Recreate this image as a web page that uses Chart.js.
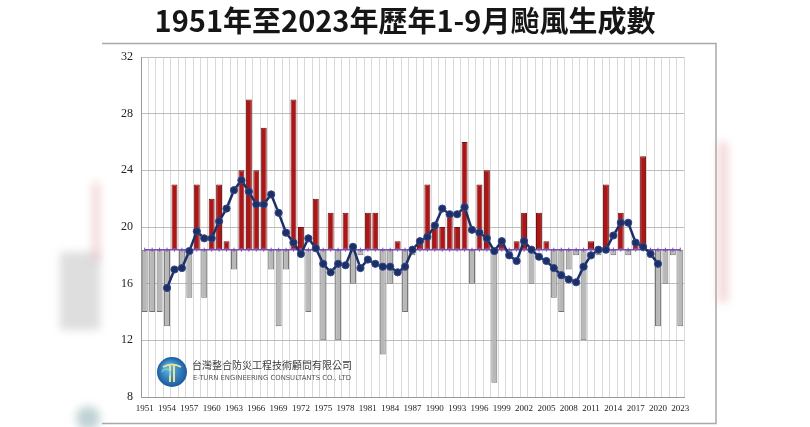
<!DOCTYPE html>
<html>
<head>
<meta charset="utf-8">
<script src="https://cdn.jsdelivr.net/npm/chart.js@4/dist/chart.umd.min.js"></script>
<style>
    html, body { margin: 0; padding: 0; background: #fff; }
    #wrap { width: 810px; height: 427px; }
</style>
</head>
<body>
<div id="wrap"><canvas id="chartCanvas" width="810" height="427"></canvas></div>
<script>
// years 1951 - 2023
const years = [
    1951, 1952, 1953, 1954, 1955, 1956, 1957, 1958, 1959, 1960,
    1961, 1962, 1963, 1964, 1965, 1966, 1967, 1968, 1969, 1970,
    1971, 1972, 1973, 1974, 1975, 1976, 1977, 1978, 1979, 1980,
    1981, 1982, 1983, 1984, 1985, 1986, 1987, 1988, 1989, 1990,
    1991, 1992, 1993, 1994, 1995, 1996, 1997, 1998, 1999, 2000,
    2001, 2002, 2003, 2004, 2005, 2006, 2007, 2008, 2009, 2010,
    2011, 2012, 2013, 2014, 2015, 2016, 2017, 2018, 2019, 2020,
    2021, 2022, 2023
];

// typhoons formed Jan-Sep each year
const typhoonCounts = [
    14, 14, 14, 13, 23, 17, 15, 23, 15, 22,
    23, 19, 17, 24, 29, 24, 27, 17, 13, 17,
    29, 20, 14, 22, 12, 21, 12, 21, 16, 18,
    21, 21, 11, 16, 19, 14, 18, 19, 23, 20,
    20, 21, 20, 26, 16, 23, 24, 9, 19, 18,
    19, 21, 16, 21, 19, 15, 14, 17, 18, 12,
    19, 18, 23, 18, 21, 18, 19, 25, 18, 13,
    16, 18, 13
];

// running average line (null where not drawn)
const runningAvg = [
    null, null, null, 15.7, 17.0, 17.1, 18.3, 19.7, 19.2, 19.2,
    20.4, 21.3, 22.6, 23.3, 22.5, 21.6, 21.6, 22.3, 21.0, 19.6,
    18.9, 18.1, 19.2, 18.5, 17.4, 16.8, 17.4, 17.3, 18.6, 17.1,
    17.7, 17.4, 17.2, 17.2, 16.8, 17.2, 18.4, 19.0, 19.3, 20.1,
    21.3, 20.9, 20.9, 21.4, 19.8, 19.6, 19.2, 18.3, 19.0, 18.0,
    17.6, 19.0, 18.4, 17.9, 17.6, 17.1, 16.6, 16.3, 16.1, 17.2,
    18.0, 18.4, 18.4, 19.4, 20.3, 20.3, 18.9, 18.6, 18.1, 17.4,
    null, null, null
];

const meanValue = 18.4;
const labelYears = [1951, 1954, 1957, 1960, 1963, 1966, 1969, 1972, 1975, 1978, 1981, 1984, 1987,
    1990, 1993, 1996, 1999, 2002, 2005, 2008, 2011, 2014, 2017, 2020, 2023];
const yTicks = [8, 12, 16, 20, 24, 28, 32];

const titleText = '1951年至2023年歷年1-9月颱風生成數';
const companyName = '台灣整合防災工程技術顧問有限公司';
const companyEnglish = 'E-TURN ENGINEERING CONSULTANTS CO., LTD';

const RED = '#ad1616', RED_EDGE = '#741010';
const GRAY = '#b8b8b8', GRAY_EDGE = '#727272';

// background, frame, blurry edges, title
const decorPlugin = {
    id: 'decor',
    beforeDraw(chart) {
        const c = chart.ctx;
        c.save();
        c.fillStyle = '#fff';
        c.fillRect(0, 0, chart.width, chart.height);

        // soft blurred shapes at the edges of the photo
        c.filter = 'blur(4px)';
        c.fillStyle = 'rgba(200,200,200,0.6)';
        c.fillRect(60, 252, 40, 78);
        c.fillStyle = 'rgba(236,190,190,0.6)';
        c.fillRect(92, 182, 8, 78);
        c.fillRect(718, 142, 10, 160);
        c.fillStyle = 'rgba(150,180,185,0.6)';
        c.beginPath();
        c.arc(88, 418, 12, 0, Math.PI * 2);
        c.fill();
        c.filter = 'none';

        c.strokeStyle = '#a9a9a9';
        c.lineWidth = 1.5;
        c.beginPath();
        c.moveTo(102, 43.5);
        c.lineTo(716, 43.5);
        c.lineTo(716, 423.5);
        c.lineTo(102, 423.5);
        c.stroke();

        c.fillStyle = '#161616';
        c.font = 'bold 29px "Noto Sans CJK TC"';
        c.textAlign = 'center';
        c.textBaseline = 'middle';
        c.fillText(titleText, 405, 21, 526);
        c.restore();
    },
    afterDatasetsDraw(chart) {
        const c = chart.ctx;
        c.save();
        // logo
        const cx = 172, cy = 372, r = 15;
        const g = c.createRadialGradient(cx - 4, cy - 5, 2, cx, cy, r);
        g.addColorStop(0, '#5ab4e6');
        g.addColorStop(1, '#1b5a9e');
        c.fillStyle = g;
        c.beginPath();
        c.arc(cx, cy, r, 0, Math.PI * 2);
        c.fill();
        c.strokeStyle = '#e6e29a';
        c.lineWidth = 2;
        c.beginPath();
        c.moveTo(cx - 9, cy - 5);
        c.quadraticCurveTo(cx, cy - 10, cx + 9, cy - 5);
        c.moveTo(cx - 2, cy - 7);
        c.lineTo(cx - 2, cy + 10);
        c.moveTo(cx + 2, cy - 7);
        c.lineTo(cx + 2, cy + 10);
        c.stroke();
        c.strokeStyle = '#7fd0c0';
        c.lineWidth = 1.5;
        c.beginPath();
        c.arc(cx - 6, cy + 1, 4, Math.PI * 1.1, Math.PI * 0.2);
        c.stroke();

        c.fillStyle = '#3c3c3c';
        c.textAlign = 'left';
        c.textBaseline = 'middle';
        c.font = '10px "Noto Sans CJK TC"';
        c.fillText(companyName, 192, 365, 160);
        c.font = '7px "DejaVu Sans"';
        c.fillStyle = '#555';
        c.fillText(companyEnglish, 193, 378, 158);
        c.restore();
    }
};

const ctx = document.getElementById('chartCanvas').getContext('2d');

let chart = new Chart(ctx, {
    type: 'bar',
    data: {
        labels: years,
        datasets: [
            {
                type: 'line',
                label: 'running average',
                data: runningAvg,
                borderColor: '#1c2f66',
                borderWidth: 2.5,
                pointRadius: 3.6,
                pointBackgroundColor: '#1c2f66',
                pointBorderColor: '#34488a',
                pointBorderWidth: 1,
                tension: 0,
                order: 0
            },
            {
                type: 'line',
                label: 'mean',
                data: years.map(() => meanValue),
                borderColor: '#7a4fb8',
                borderWidth: 1.5,
                pointStyle: 'line',
                rotation: 90,
                pointRadius: 2,
                pointBorderColor: '#7a4fb8',
                pointBorderWidth: 1,
                order: 1
            },
            {
                label: 'typhoons',
                data: typhoonCounts.map(v => [meanValue, v]),
                backgroundColor: typhoonCounts.map(v => v > meanValue ? RED : GRAY),
                borderColor: typhoonCounts.map(v => v > meanValue ? RED_EDGE : GRAY_EDGE),
                borderWidth: 1,
                borderSkipped: false,
                barPercentage: 0.8,
                categoryPercentage: 1,
                order: 2
            }
        ]
    },
    options: {
        responsive: false,
        animation: false,
        devicePixelRatio: 1,
        layout: { padding: { left: 104, right: 126, top: 57, bottom: 0 } },
        plugins: {
            legend: { display: false },
            tooltip: { enabled: false }
        },
        scales: {
            x: {
                offset: true,
                afterFit: scale => { scale.height = 30; },
                grid: { color: '#d9d9d9', offset: true, drawTicks: false },
                border: { color: '#9a9a9a' },
                ticks: {
                    autoSkip: false,
                    maxRotation: 0,
                    padding: 6,
                    color: '#222',
                    font: { family: '"Liberation Serif"', size: 9 },
                    callback: function (value, index) {
                        return labelYears.includes(years[index]) ? String(years[index]) : '';
                    }
                }
            },
            y: {
                min: yTicks[0],
                max: yTicks[yTicks.length - 1],
                afterFit: scale => { scale.width = 37; },
                afterBuildTicks: scale => { scale.ticks = yTicks.map(v => ({ value: v })); },
                grid: { color: '#bdbdbd', drawTicks: false },
                border: { color: '#9a9a9a' },
                ticks: {
                    padding: 8,
                    color: '#222',
                    font: { family: '"Liberation Serif"', size: 12 }
                }
            }
        }
    },
    plugins: [decorPlugin]
});
</script>
</body>
</html>
